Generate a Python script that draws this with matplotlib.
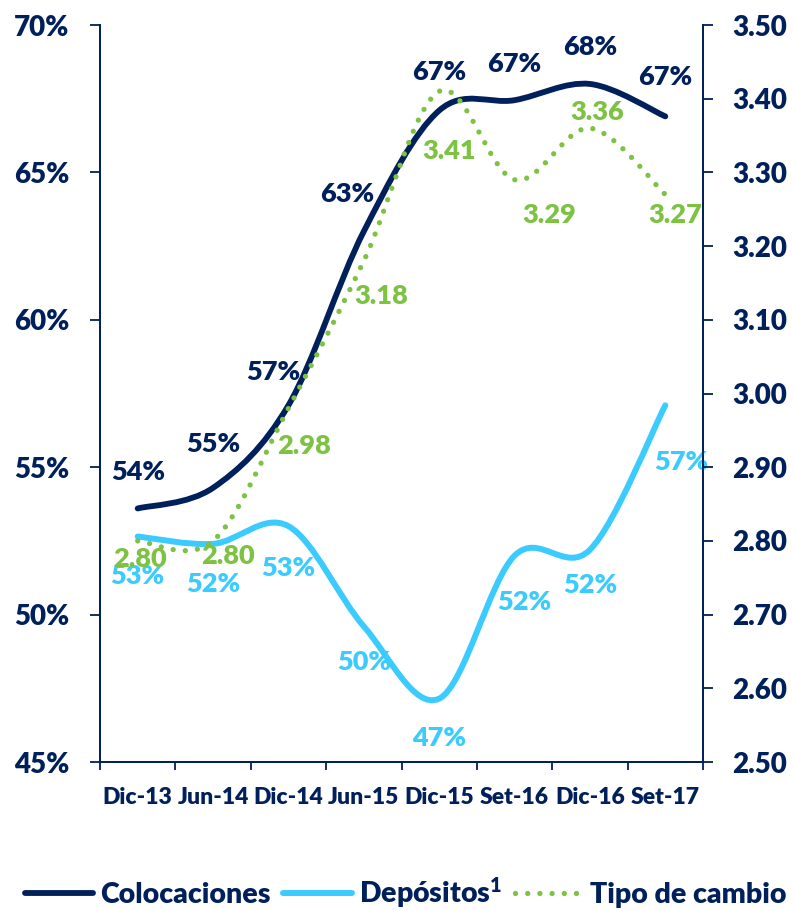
import matplotlib
matplotlib.use("Agg")
import matplotlib.pyplot as plt
from matplotlib.path import Path
from matplotlib.patches import PathPatch
from matplotlib.lines import Line2D
import numpy as np

plt.rcParams['font.family'] = ['Lato', 'DejaVu Sans']
plt.rcParams['font.weight'] = 'heavy'
plt.rcParams['mathtext.fontset'] = 'custom'
plt.rcParams['mathtext.rm'] = 'Lato:heavy'
plt.rcParams['mathtext.it'] = 'Lato:heavy'
plt.rcParams['mathtext.bf'] = 'Lato:heavy'

# ---------- data ---------- #
categories = ['Dic-13', 'Jun-14', 'Dic-14', 'Jun-15', 'Dic-15', 'Set-16', 'Dic-16', 'Set-17']
colocaciones = [53.6, 54.3, 57.1, 63.0, 67.1, 67.45, 68.0, 66.9]
depositos = [52.65, 52.4, 53.0, 49.6, 47.15, 52.0, 52.2, 57.1]
tipo_cambio = [2.80, 2.80, 2.98, 3.18, 3.41, 3.29, 3.36, 3.27]
lbl_coloc = ['54%', '55%', '57%', '63%', '67%', '67%', '68%', '67%']
lbl_depo = ['53%', '52%', '53%', '50%', '47%', '52%', '52%', '57%']
lbl_tipo = ['2.80', '2.80', '2.98', '3.18', '3.41', '3.29', '3.36', '3.27']

# label offsets in pixels (dx, dy), dy positive = up
off_coloc = [(0, 36), (0, 44), (-15, 33), (-17, 37), (0, 38), (0, 36), (0, 37), (0, 39)]
off_depo = [(0, -40), (0, -40), (0, -42), (0, -36), (0, -39), (10, -46), (0, -35), (16, -57)]
off_tipo = [(2, -18), (15, -15), (16, -38), (17, -35), (10, -60), (35, -35), (7, 16), (10, -20)]

navy = '#00205B'
blue = '#3CCBFF'
green = '#7DC242'


def smooth_path(xs, ys):
    # excel-like smoothed line as cubic bezier segments
    n = len(xs)
    verts = [(xs[0], ys[0])]
    codes = [Path.MOVETO]
    for i in range(n - 1):
        a = i - 1 if i > 0 else i
        d = i + 2 if i + 2 < n else i + 1
        c1 = (xs[i] + (xs[i+1] - xs[a]) / 6, ys[i] + (ys[i+1] - ys[a]) / 6)
        c2 = (xs[i+1] - (xs[d] - xs[i]) / 6, ys[i+1] - (ys[d] - ys[i]) / 6)
        verts += [c1, c2, (xs[i+1], ys[i+1])]
        codes += [Path.CURVE4] * 3
    return Path(verts, codes)


fig = plt.figure(figsize=(7.94, 9.11), dpi=100)
ax = fig.add_axes([100/794, 1 - 762/911, 603/794, 737/911])
ax2 = ax.twinx()

x = np.arange(len(categories))

ax.add_patch(PathPatch(smooth_path(x, depositos), fill=False, ec=blue, lw=4.3,
                       capstyle='round', zorder=2))
ax.add_patch(PathPatch(smooth_path(x, colocaciones), fill=False, ec=navy, lw=4.2,
                       capstyle='round', zorder=3))
ax2.add_patch(PathPatch(smooth_path(x, tipo_cambio), fill=False, ec=green, lw=3.8,
                        linestyle=(0, (0.01, 2.3)), capstyle='round', zorder=3))

ax.set_xlim(-0.5, len(categories) - 0.5)
ax.set_ylim(45, 70)
ax2.set_ylim(2.5, 3.5)

# ---------- data labels ---------- #
k = 0.72
for i in range(len(x)):
    ax.annotate(lbl_coloc[i], (x[i], colocaciones[i]), xytext=(off_coloc[i][0]*k, off_coloc[i][1]*k),
                textcoords='offset points', ha='center', va='center', color=navy, fontsize=19.5)
    ax.annotate(lbl_depo[i], (x[i], depositos[i]), xytext=(off_depo[i][0]*k, off_depo[i][1]*k),
                textcoords='offset points', ha='center', va='center', color=blue, fontsize=19.5)
    ax2.annotate(lbl_tipo[i], (x[i], tipo_cambio[i]), xytext=(off_tipo[i][0]*k, off_tipo[i][1]*k),
                 textcoords='offset points', ha='center', va='center', color=green, fontsize=19.5)

# ---------- axes styling ---------- #
ax.set_yticks(np.arange(45, 71, 5))
ax.set_yticklabels([f'{v}%' for v in range(45, 71, 5)])
ax2.set_yticks(np.arange(2.5, 3.51, 0.1))
ax2.set_yticklabels([f'{v:.2f}' for v in np.arange(2.5, 3.51, 0.1)])

ax.set_xticks(np.arange(-0.5, len(categories), 1))
ax.set_xticklabels([])
ax.set_xticks(x, minor=True)
ax.set_xticklabels(categories, minor=True)

for a in (ax, ax2):
    for s in a.spines.values():
        s.set_color(navy)
        s.set_linewidth(1.3)
    a.spines['top'].set_visible(False)

ax.tick_params(axis='y', colors=navy, labelsize=20, length=7, width=1.3, pad=15)
ax2.tick_params(axis='y', colors=navy, labelsize=20, length=7, width=1.3, pad=14)
ax.tick_params(axis='x', which='major', colors=navy, length=6, width=1.3)
ax.tick_params(axis='x', which='minor', colors=navy, length=0, labelsize=16.5, pad=18)

handles = [Line2D([], [], color=navy, lw=4.2, solid_capstyle='round'),
           Line2D([], [], color=blue, lw=4.3, solid_capstyle='round'),
           Line2D([], [], color=green, lw=3.8, linestyle=(0, (0.01, 2.3)), dash_capstyle='round')]
names = ['Colocaciones', 'Depósitos$^{1}$', 'Tipo de cambio']
leg = fig.legend(handles, names, loc='center', bbox_to_anchor=(0.511, 1 - 893/911), ncol=3,
                 frameon=False, fontsize=20.5, handlelength=2.4, handletextpad=0.25,
                 columnspacing=0.45, borderaxespad=0)
for t in leg.get_texts():
    t.set_color(navy)

fig.savefig('out.png', dpi=100)
